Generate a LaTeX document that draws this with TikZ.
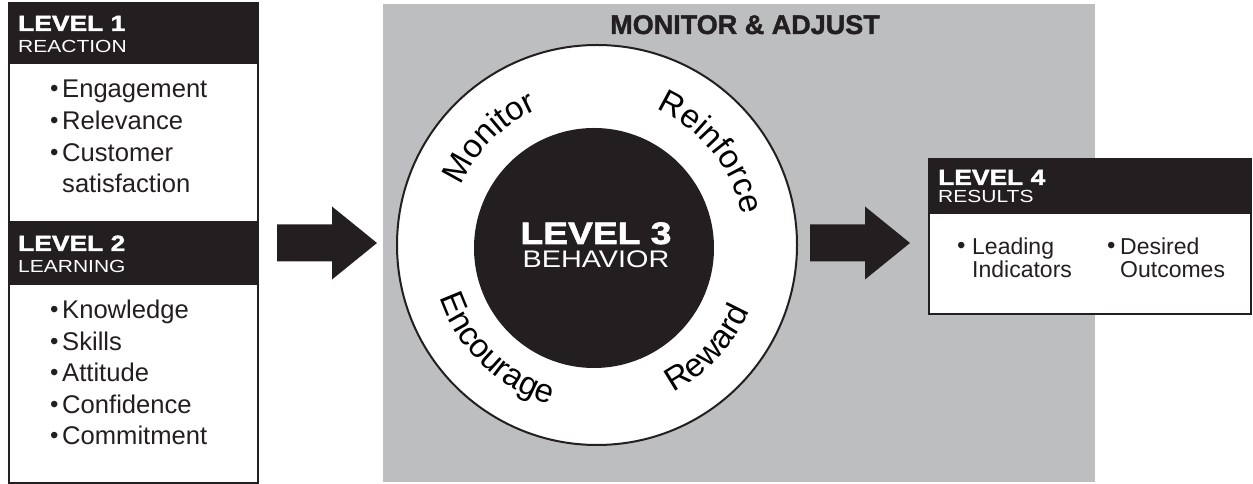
\documentclass[tikz,border=0pt]{standalone}
\usepackage{fontspec}
\setmainfont{Liberation Sans}
\newfontfamily\wideface{Liberation Sans}[FakeStretch=1.2]
\newfontfamily\heavyface{Liberation Sans Bold}[FakeStretch=1.2,FakeBold=2]
\newfontfamily\titleface{Liberation Sans Bold}[FakeBold=1.5]
\usetikzlibrary{positioning,decorations.text}

\definecolor{inkblack}{RGB}{35,31,32}
\definecolor{panelgray}{RGB}{188,190,192}

\newcommand{\lvlfont}{\heavyface\fontsize{22}{22}\selectfont}
\newcommand{\subfont}{\wideface\fontsize{17.5}{17.5}\selectfont}
\newcommand{\ringfont}{\fontsize{33}{33}\selectfont}
\newcommand{\blt}[1][12pt]{\makebox[#1][l]{\raisebox{1pt}{\fontsize{24}{24}\selectfont\textbullet}}}

\tikzset{
  headbar/.style={fill=inkblack, draw=inkblack, line width=2pt, anchor=north west, inner sep=0pt},
  bodybox/.style={fill=white, draw=inkblack, line width=2pt, anchor=north west, inner sep=0pt},
  txt/.style={anchor=base west, inner sep=0pt},
  item/.style={txt, text=inkblack, font=\fontsize{25.6}{25.6}\selectfont},
  smallitem/.style={txt, text=inkblack, font=\fontsize{23}{23}\selectfont},
  blockarrow/.style={fill=inkblack},
  ringtext/.style={decorate, decoration={text along path, text align=center, text={|\ringfont|#1}}}
}

\begin{document}
\begin{tikzpicture}[x=1pt,y=1pt]
    \useasboundingbox (0,0) rectangle (1253,484);

    % levels 1 and 2
    \node[bodybox, minimum width=249pt, minimum height=480pt] (leftbox) at (8,482) {};
    \node[headbar, minimum width=249pt, minimum height=60pt] (head1) at (8,482) {};
    \node[headbar, minimum width=249pt, minimum height=62pt] (head2) at (8,263) {};

    \node[txt, text=white, font=\lvlfont] (lvl1) at (18,453) {LEVEL 1};
    \node[txt, text=white, font=\subfont] (react) at (18,431) {REACTION};
    \node[item] (engage) at (50,386) {\blt Engagement};
    \node[item] (relev) at ([yshift=-32pt]engage.base west) {\blt Relevance};
    \node[item] (cust) at ([yshift=-32pt]relev.base west) {\blt Customer};
    \node[item] (satis) at ([yshift=-31pt]cust.base west) {\hspace*{12pt}satisfaction};

    \node[txt, text=white, font=\lvlfont] (lvl2) at (18,233) {LEVEL 2};
    \node[txt, text=white, font=\subfont] (learn) at (18,211) {LEARNING};
    \node[item] (know) at (50,165) {\blt Knowledge};
    \node[item] (skill) at ([yshift=-31.5pt]know.base west) {\blt Skills};
    \node[item] (attit) at ([yshift=-31.5pt]skill.base west) {\blt Attitude};
    \node[item] (confid) at ([yshift=-31.5pt]attit.base west) {\blt Confidence};
    \node[item] (commit) at ([yshift=-31.5pt]confid.base west) {\blt Commitment};

    % monitor & adjust panel
    \node[fill=panelgray, anchor=south west, minimum width=712pt, minimum height=478pt, inner sep=0pt] (panel) at (383,2) {};
    \node[anchor=base, text=inkblack, font=\titleface\fontsize{27}{27}\selectfont] (title) at (745,450) {MONITOR \& ADJUST};

    \node[circle, fill=white, draw=inkblack, line width=2pt, minimum size=400pt, inner sep=0pt] (ring) at (597,239) {};
    \node[circle, fill=inkblack, minimum size=240pt, inner sep=0pt] (core) at (594,236) {};
    \node[anchor=base, text=white, font=\heavyface\fontsize{31}{31}\selectfont] (lvl3) at (596,240) {LEVEL 3};
    \node[anchor=base, text=white, font=\wideface\fontsize{24}{24}\selectfont] (behav) at (596,216) {BEHAVIOR};

    \path[ringtext=Monitor] ([shift={(180:148)}]ring.center) arc[start angle=180, end angle=90, radius=148];
    \path[ringtext=Reinforce] ([shift={(84:148)}]ring.center) arc[start angle=84, end angle=-6, radius=148];
    \path[ringtext=Encourage] ([shift={(181:166)}]ring.center) arc[start angle=181, end angle=271, radius=166];
    \path[ringtext=Reward] ([shift={(272:166)}]ring.center) arc[start angle=272, end angle=362, radius=166];

    % block arrows
    \coordinate (arrL) at (277,241);
    \coordinate (arrR) at (810,241);
    \fill[blockarrow] (arrL) ++(0,18.5) -- ++(55,0) -- ++(0,18) -- ++(45,-36.5)
        -- ++(-45,-36.5) -- ++(0,18) -- ++(-55,0) -- cycle;
    \fill[blockarrow] (arrR) ++(0,18.5) -- ++(55,0) -- ++(0,18) -- ++(45,-36.5)
        -- ++(-45,-36.5) -- ++(0,18) -- ++(-55,0) -- cycle;

    % level 4
    \node[bodybox, minimum width=322pt, minimum height=155pt] (box4) at (928,326) {};
    \node[headbar, minimum width=322pt, minimum height=54pt] (head4) at (928,326) {};
    \node[txt, text=white, font=\lvlfont] (lvl4) at (938,299) {LEVEL 4};
    \node[txt, text=white, font=\subfont] (result) at (938,281) {RESULTS};
    \node[smallitem] (lead) at (957,229) {\blt[15pt]Leading};
    \node[smallitem] (indic) at (972,206) {Indicators};
    \node[smallitem] (desir) at (1107,229) {\blt[13pt]Desired};
    \node[smallitem] (outc) at (1120,206) {Outcomes};
\end{tikzpicture}
\end{document}
